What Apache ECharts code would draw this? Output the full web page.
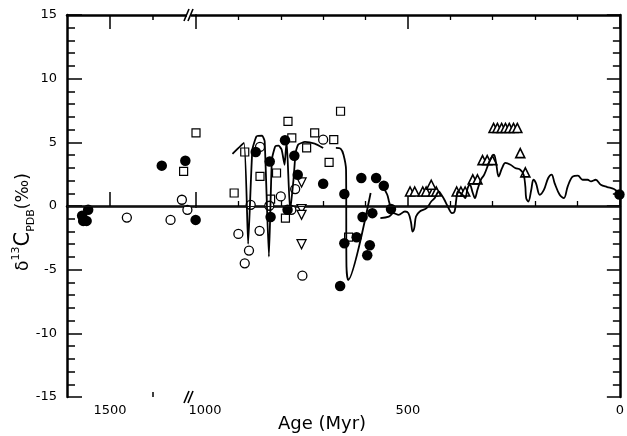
<!DOCTYPE html>
<html><head><meta charset="utf-8">
<script src="https://cdn.jsdelivr.net/npm/echarts@6/dist/echarts.min.js"></script>
<style>html,body{margin:0;padding:0;background:#fff}#c{width:627px;height:436px}</style>
</head><body><div id="c"></div>
<script>
// ---- data: [age (Myr), delta13C (permil)] ----
const filledCircles = [[1662,-0.77],[1656,-1.17],[1636,-1.17],[1627,-0.30],[1199,3.17],[1062,3.56],[1002,-1.09],
  [859,4.24],[826,3.50],[824,-0.87],[790,5.16],[768,3.95],[760,2.46],[700,1.75],[784,-0.30],
  [610,2.20],[575,2.20],[557,1.59],[650,0.94],[607,-0.87],[584,-0.56],[621,-2.45],[650,-2.92],
  [590,-3.08],[596,-3.87],[660,-6.28],[540,-0.24],[1,0.9]];
const openCircles = [[1402,-0.91],[1148,-1.09],[1082,0.49],[1050,-0.30],[900,-2.19],[875,-3.50],[885,-4.50],
  [871,0.09],[849,4.64],[850,-1.95],[827,0.02],[800,0.75],[700,5.21],[766,1.33],[775,-0.30],[749,-5.47]];
const openSquares = [[1072,2.72],[1000,5.74],[910,1.02],[885,4.24],[849,2.32],[824,0.54],[810,2.59],[783,6.65],
  [774,5.35],[789,-0.95],[739,4.56],[720,5.74],[675,5.21],[659,7.44],[686,3.43],[640,-2.45]];
const trianglesDown = [[751,1.85],[751,-0.24],[751,-0.69],[751,-3.0]];
const trianglesUp = [[495,1.14],[484,1.14],[465,1.14],[457,1.14],[441,1.14],[433,1.14],[445,1.67],
  [385,1.14],[375,1.14],[365,1.14],[347,2.09],[336,2.09],[324,3.6],[313,3.6],[301,3.6],
  [298,6.13],[289,6.13],[279,6.13],[270,6.13],[261,6.13],[251,6.13],[242,6.13],[235,4.15],[223,2.64]];
const curveA = [[914,4.09],[887,4.95],[877,-2.98],[867,4.43],[857,5.47],[844,5.53],[838,5.08],[828,-3.98],
  [821,3.64],[813,4.69],[805,4.74],[798,4.43],[791,3.24],[788,4.43],[786,5.08],[778,-0.43],[770,2.06],
  [765,4.17],[759,4.82],[743,5.03],[720,4.90],[700,4.56]];
const curveB = [[670,4.56],[659,4.50],[652,4.03],[646,2.85],[645,-4.76],[641,-5.81],[588,1.02]];
const curveC = [[557,1.4],[549,0.9],[545,0.4],[541,-0.1]];
const curveD = [[565,-0.95],[545,-0.83],[534,-0.56],[522,-0.69],[507,-0.43],[499,-0.56],[493,-1.24],[489,-2.01],
  [485,-1.72],[481,-0.83],[472,-0.43],[456,-0.17],[445,0.35],[437,0.62],[427,1.14],[421,0.88],[414,0.49],
  [406,-0.04],[396,-0.56],[390,-0.43],[386,0.49],[382,1.14],[371,0.88],[365,0.62],[359,1.41],[354,1.67],
  [347,1.02],[342,0.62],[336,1.28],[328,2.06],[320,2.46],[309,3.38],[301,3.90],[297,4.03],[292,3.38],
  [286,2.32],[278,2.98],[270,3.38],[258,3.24],[247,2.98],[235,2.85],[227,2.46],[223,1.54],[221,0.62],
  [216,0.35],[209,1.28],[204,2.06],[198,1.80],[189,0.88],[179,1.28],[169,2.20],[161,2.46],[154,1.80],
  [142,0.88],[132,0.62],[123,1.54],[111,2.32],[99,2.38],[88,2.06],[76,2.06],[68,1.93],[57,2.06],
  [45,1.67],[30,1.49],[14,1.33],[2,1.02]];
const yTicks = [-15, 15, 5];            // min, max, interval
const leftAgeRange = [1000, 1750];
const rightAgeRange = [0, 1000];
const leftMajorTicks = [1000, 1500];
const leftMinorTicks = [1250];
const leftLabels = [1500];

// ---- chart ----
const FONT = 'DejaVu Sans';
const isLeft = p => p[0] >= 1000;
const L = a => a.filter(isLeft);
const R = a => a.filter(p => !isLeft(p));
const axisLine = {show: true, lineStyle: {color: '#000', width: 2.5}};
const G0 = {left: 67, top: 15, width: 129, height: 382};
const G1 = {left: 196, top: 15, width: 430, height: 382};

function xLeft(pos, ticks, len, showLine, labels) {
  return {type: 'value', gridIndex: 0, position: pos, min: leftAgeRange[0], max: leftAgeRange[1], inverse: true,
    axisLine: showLine ? axisLine : {show: false},
    axisTick: {show: true, inside: true, length: len, customValues: ticks, lineStyle: {color: '#000', width: 1.5}},
    axisLabel: labels ? {show: true, customValues: labels, formatter: v => String(v), margin: 7, color: '#000', fontFamily: FONT, fontSize: 13} : {show: false},
    splitLine: {show: false}};
}
function xRight(pos, labels) {
  return {type: 'value', gridIndex: 1, position: pos, min: rightAgeRange[0], max: rightAgeRange[1], interval: 500, inverse: true,
    axisLine: axisLine,
    axisTick: {show: true, inside: true, length: 14, lineStyle: {color: '#000', width: 1.5}},
    minorTick: {show: true, splitNumber: 5, length: 5, lineStyle: {color: '#000', width: 1.3}},
    axisLabel: labels ? {show: true, margin: 7, color: '#000', fontFamily: FONT, fontSize: 13,
      formatter: v => v === 1000 ? '{s|1000}' : String(v),
      rich: {s: {padding: [0, 0, 0, 18], fontFamily: FONT, fontSize: 13, color: '#000'}}} : {show: false},
    splitLine: {show: false}};
}
function yAx(grid, pos, labels, majLen, minLen) {
  return {type: 'value', gridIndex: grid, position: pos, min: yTicks[0], max: yTicks[1], interval: yTicks[2],
    axisLine: axisLine,
    axisTick: {show: true, inside: true, length: majLen, lineStyle: {color: '#000', width: 1.5}},
    minorTick: {show: true, splitNumber: 5, length: minLen, lineStyle: {color: '#000', width: 1.5}},
    axisLabel: labels ? {show: true, margin: 10, color: '#000', fontFamily: FONT, fontSize: 13} : {show: false},
    splitLine: {show: false}};
}

const marker = {
  filled: {symbol: 'circle', symbolSize: 10.5, itemStyle: {color: '#000', opacity: 1}},
  open: {symbol: 'circle', symbolSize: 9, itemStyle: {color: '#fff', borderColor: '#000', borderWidth: 1.3, opacity: 1}},
  square: {symbol: 'rect', symbolSize: 8, itemStyle: {color: '#fff', borderColor: '#000', borderWidth: 1.2, opacity: 1}},
  triUp: {symbol: 'triangle', symbolSize: 9, itemStyle: {color: '#fff', borderColor: '#000', borderWidth: 1.6, opacity: 1}},
  triDown: {symbol: 'triangle', symbolSize: 9, symbolRotate: 180, itemStyle: {color: '#fff', borderColor: '#000', borderWidth: 1.3, opacity: 1}}
};
const zeroLine = {silent: true, symbol: 'none', label: {show: false}, lineStyle: {color: '#111', width: 1, type: 'solid'}, data: [{yAxis: 0}]};

const series = [];
function addScatter(data, m, withZero) {
  const l = L(data), r = R(data);
  series.push(Object.assign({type: 'scatter', xAxisIndex: 0, yAxisIndex: 0, data: l, z: 3}, m,
    withZero ? {markLine: zeroLine} : {}));
  series.push(Object.assign({type: 'scatter', xAxisIndex: 2, yAxisIndex: 1, data: r, z: 3}, m,
    withZero ? {markLine: zeroLine} : {}));
}
addScatter(openSquares, marker.square, true);
addScatter(openCircles, marker.open);
addScatter(trianglesDown, marker.triDown);
addScatter(trianglesUp, marker.triUp);
addScatter(filledCircles, marker.filled);
function addLine(data, smooth) {
  series.push({type: 'line', xAxisIndex: 2, yAxisIndex: 1, data: data, showSymbol: false, smooth: smooth,
    lineStyle: {color: '#000', width: 1.8}, z: 4});
}
addLine(curveA, 0.15);
addLine(curveB, 0.25);
addLine(curveC, 0.4);
addLine(curveD, 0.35);

const breakMark = (y) => [
  {type: 'rect', shape: {x: 187, y: y - 3, width: 4, height: 6}, style: {fill: '#fff'}, z: 100},
  {type: 'line', shape: {x1: 184, y1: y + 6, x2: 189, y2: y - 6}, style: {stroke: '#000', lineWidth: 1.6}, z: 101},
  {type: 'line', shape: {x1: 188, y1: y + 6, x2: 193, y2: y - 6}, style: {stroke: '#000', lineWidth: 1.6}, z: 101}
];

const chart = echarts.init(document.getElementById('c'), null, {renderer: 'canvas'});
chart.setOption({
  animation: false,
  backgroundColor: '#fff',
  grid: [G0, G1],
  xAxis: [
    xLeft('bottom', leftMajorTicks, 14, true, leftLabels),
    xLeft('bottom', leftMinorTicks, 5, false, null),
    xRight('bottom', true),
    xLeft('top', leftMajorTicks, 14, true, null),
    xLeft('top', leftMinorTicks, 5, false, null),
    xRight('top', false)
  ],
  yAxis: [yAx(0, 'left', true, 15, 8), yAx(1, 'right', false, 13, 7)],
  series: series,
  graphic: [
    ...breakMark(15), ...breakMark(397),
    {type: 'text', x: 322, y: 424, z: 100, style: {text: 'Age (Myr)', fontFamily: FONT, fontSize: 18, fill: '#000', align: 'center', verticalAlign: 'middle'}},
    {type: 'text', x: 24, y: 222, rotation: Math.PI / 2, z: 100, style: {
      text: '{d|δ}{s|13}{c|C}{b|PDB}{p|(‰)}', align: 'center', verticalAlign: 'middle', fill: '#000',
      rich: {
        d: {fontFamily: FONT, fontSize: 17, lineHeight: 26, verticalAlign: 'middle', fill: '#000'},
        s: {fontFamily: FONT, fontSize: 11, lineHeight: 12, verticalAlign: 'top', fill: '#000'},
        c: {fontFamily: FONT, fontSize: 21, lineHeight: 26, verticalAlign: 'middle', fill: '#000'},
        b: {fontFamily: FONT, fontSize: 11, lineHeight: 12, verticalAlign: 'bottom', fill: '#000'},
        p: {fontFamily: FONT, fontSize: 17, lineHeight: 26, verticalAlign: 'middle', fill: '#000'}
      }}}
  ]
});
</script>
</body></html>
